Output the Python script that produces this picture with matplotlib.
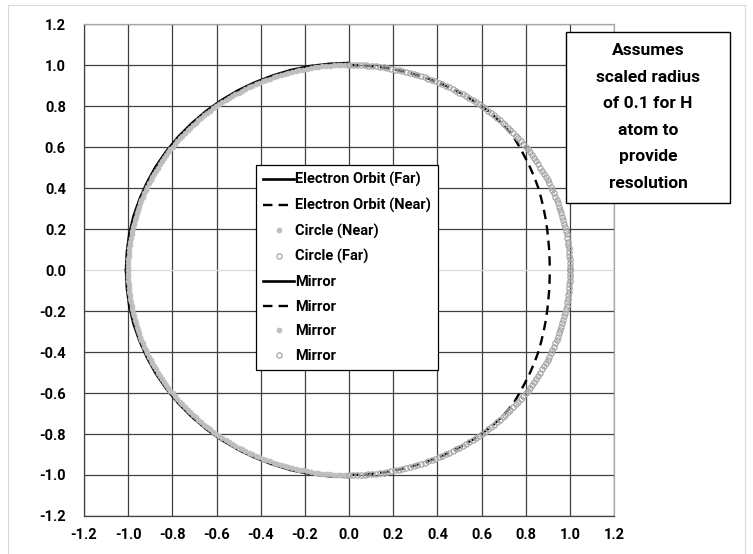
import matplotlib
matplotlib.use("Agg")
import matplotlib.pyplot as plt
from matplotlib.patches import Rectangle

# ---------------- data ----------------
# sine of 0..90 degrees (quarter-circle points read as unit circle)
arc_sin = [0.000, 0.017, 0.035, 0.052, 0.070, 0.087, 0.105, 0.122, 0.139, 0.156,
           0.174, 0.191, 0.208, 0.225, 0.242, 0.259, 0.276, 0.292, 0.309, 0.326,
           0.342, 0.358, 0.375, 0.391, 0.407, 0.423, 0.438, 0.454, 0.469, 0.485,
           0.500, 0.515, 0.530, 0.545, 0.559, 0.574, 0.588, 0.602, 0.616, 0.629,
           0.643, 0.656, 0.669, 0.682, 0.695, 0.707, 0.719, 0.731, 0.743, 0.755,
           0.766, 0.777, 0.788, 0.799, 0.809, 0.819, 0.829, 0.839, 0.848, 0.857,
           0.866, 0.875, 0.883, 0.891, 0.899, 0.906, 0.914, 0.921, 0.927, 0.934,
           0.940, 0.946, 0.951, 0.956, 0.961, 0.966, 0.970, 0.974, 0.978, 0.982,
           0.985, 0.988, 0.990, 0.993, 0.995, 0.996, 0.998, 0.999, 0.999, 1.000, 1.000]
arc_cos = arc_sin[::-1]

orbit_far_x = [0.000, -0.088, -0.175, -0.262, -0.345, -0.427, -0.505, -0.580, -0.649, -0.714,
               -0.774, -0.827, -0.875, -0.915, -0.949, -0.976, -0.995, -1.006, -1.010]
orbit_far_y = [1.010, 1.006, 0.995, 0.976, 0.949, 0.915, 0.875, 0.827, 0.774, 0.714,
               0.649, 0.580, 0.505, 0.427, 0.345, 0.262, 0.176, 0.088, 0.000]

orbit_near_x = [0.000, 0.087, 0.174, 0.259, 0.342, 0.423, 0.500, 0.574, 0.643, 0.700,
                0.745, 0.772, 0.797, 0.820, 0.840, 0.857, 0.870, 0.881, 0.890, 0.897,
                0.902, 0.906, 0.908, 0.909]
orbit_near_y = [1.000, 0.996, 0.985, 0.966, 0.940, 0.906, 0.866, 0.819, 0.766, 0.707,
                0.650, 0.600, 0.550, 0.500, 0.450, 0.400, 0.350, 0.300, 0.250, 0.200,
                0.150, 0.100, 0.050, 0.000]

circle_near_x = [-v for v in arc_cos]
circle_near_y = arc_sin
circle_far_x = arc_cos
circle_far_y = arc_sin

series_labels = ["Electron Orbit (Far)", "Electron Orbit (Near)", "Circle (Near)", "Circle (Far)",
                 "Mirror", "Mirror", "Mirror", "Mirror"]

tick_values = [-1.2, -1.0, -0.8, -0.6, -0.4, -0.2, 0.0, 0.2, 0.4, 0.6, 0.8, 1.0, 1.2]
tick_labels = ["-1.2", "-1.0", "-0.8", "-0.6", "-0.4", "-0.2", "0.0", "0.2", "0.4", "0.6", "0.8", "1.0", "1.2"]

note_text = "Assumes\nscaled radius\nof 0.1 for H\natom to\nprovide\nresolution"

# ---------------- style ----------------
plt.rcParams['font.family'] = ['Roboto', 'DejaVu Sans']
plt.rcParams['font.weight'] = 'bold'

fig = plt.figure(figsize=(7.53, 5.54), dpi=100)
# chart area border
fig.patches.append(Rectangle((0.011, -0.02), 0.978, 1.011, transform=fig.transFigure,
                             fill=False, edgecolor='#D9D9D9', linewidth=0.8))

ax = fig.add_axes([0.1116, 0.0686, 0.7039, 0.888])

line_dash = (0, (4, 2.6))
dot_col = '#BEBEBE'
ring_col = '#A6A6A6'

def mirror(vals):
    return [-v for v in vals]

ax.plot(orbit_far_x, orbit_far_y, color='black', lw=1.9, zorder=3, label=series_labels[0])
ax.plot(orbit_near_x, orbit_near_y, color='black', lw=1.7, ls=line_dash, zorder=3, label=series_labels[1])
ax.plot(circle_near_x, circle_near_y, ls='none', marker='o', ms=3.6, mfc=dot_col, mec=dot_col,
        mew=0.5, zorder=4, label=series_labels[2])
ax.plot(circle_far_x, circle_far_y, ls='none', marker='o', ms=3.8, mfc='none', mec=ring_col,
        mew=0.9, zorder=4, label=series_labels[3])
ax.plot(orbit_far_x, mirror(orbit_far_y), color='black', lw=1.9, zorder=5, label=series_labels[4])
ax.plot(orbit_near_x, mirror(orbit_near_y), color='black', lw=1.7, ls=line_dash, zorder=5,
        label=series_labels[5])
ax.plot(circle_near_x, mirror(circle_near_y), ls='none', marker='o', ms=3.6, mfc=dot_col, mec=dot_col,
        mew=0.5, zorder=6, label=series_labels[6])
ax.plot(circle_far_x, mirror(circle_far_y), ls='none', marker='o', ms=3.8, mfc='none', mec=ring_col,
        mew=0.9, zorder=6, label=series_labels[7])

ax.set_xlim(-1.2, 1.2)
ax.set_ylim(-1.2, 1.2)
ax.set_xticks(tick_values)
ax.set_xticklabels(tick_labels)
ax.set_yticks(tick_values)
ax.set_yticklabels(tick_labels)
ax.tick_params(length=0, labelsize=10.5, colors='black')
ax.tick_params(axis='x', pad=9)
ax.tick_params(axis='y', pad=13)
for lab in ax.get_xticklabels() + ax.get_yticklabels():
    lab.set_fontweight('bold')

ax.grid(True, color='#404040', lw=0.9, zorder=0)
ax.set_axisbelow(True)
for val, gl in zip(tick_values, ax.get_ygridlines()):
    if abs(val) < 1e-9:
        gl.set_color('#D9D9D9')

ax.spines['left'].set_color('#404040')
ax.spines['bottom'].set_color('#404040')
ax.spines['top'].set_color('#A6A6A6')
ax.spines['right'].set_color('#A6A6A6')
for s in ax.spines.values():
    s.set_linewidth(0.9)

leg = ax.legend(loc='upper left', bbox_to_anchor=(0.3245, 0.7134), borderaxespad=0,
                frameon=True, fancybox=False, framealpha=1, edgecolor='black',
                prop={'weight': 'bold', 'size': 10.5}, handlelength=2.1, handletextpad=0.05,
                labelspacing=0.73, borderpad=0.5, markerscale=1.0)
leg.get_frame().set_linewidth(0.9)
leg.set_zorder(10)

# note box (fixed size) and its text
fig.patches.append(Rectangle((566 / 753, 1 - 203 / 554), (730 - 566) / 753, (203 - 32) / 554,
                             transform=fig.transFigure, facecolor='white', edgecolor='black',
                             linewidth=1.0, zorder=11))
fig.text(648 / 753, 1 - 117 / 554, note_text, ha='center', va='center', fontsize=12.5,
         fontweight='bold', linespacing=1.96, zorder=12)

fig.savefig('out.png', dpi=100)
